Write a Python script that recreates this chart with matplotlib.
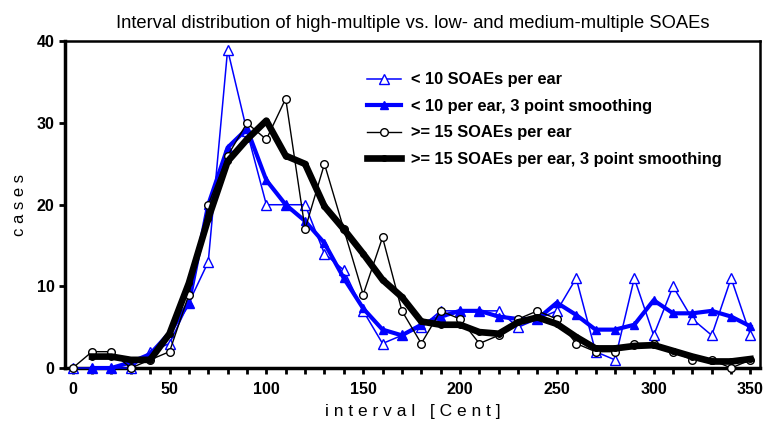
import matplotlib
matplotlib.use("Agg")
import matplotlib.pyplot as plt
from matplotlib.ticker import MultipleLocator

plt.rcParams["font.family"] = ["Liberation Sans", "DejaVu Sans"]

# interval in cents, one bin every 10 cents
intervals = list(range(0, 360, 10))
intervals_smooth = list(range(10, 360, 10))

# < 10 SOAEs per ear, raw counts
low_raw = [0, 0, 0, 0, 2, 3, 8, 13, 39, 29, 20, 20, 20, 14, 12, 7, 3, 4,
           5, 7, 7, 7, 7, 5, 6, 7, 11, 2, 1, 11, 4, 10, 6, 4, 11, 4]
# < 10 per ear, 3 point smoothing (starts at 10 cents)
low_smooth = [0, 0, 0.7, 1.7, 4.3, 8, 20, 27, 29.3, 23, 20, 18, 15.3, 11,
              7.3, 4.7, 4, 5.3, 6.3, 7, 7, 6.3, 6, 6, 8, 6.5, 4.7, 4.7,
              5.3, 8.3, 6.7, 6.7, 7, 6.3, 5.1]
# >= 15 SOAEs per ear, raw counts
high_raw = [0, 2, 2, 0, 1, 2, 9, 20, 26, 30, 28, 33, 17, 25, 17, 9, 16, 7,
            3, 7, 6, 3, 4, 6, 7, 6, 3, 2, 2, 3, 3, 2, 1, 1, 0, 1]
# >= 15 SOAEs per ear, 3 point smoothing (starts at 10 cents)
high_smooth = [1.4, 1.4, 1, 1, 4.2, 10.4, 18.3, 25.3, 28, 30.3, 26, 25,
               19.8, 17, 14, 10.8, 8.7, 5.7, 5.3, 5.3, 4.4, 4.2, 5.6, 6.2,
               5.4, 3.8, 2.4, 2.4, 2.7, 2.8, 2.1, 1.4, 0.8, 0.8, 1.1]

legend_labels = [
    "< 10 SOAEs per ear",
    "< 10 per ear, 3 point smoothing",
    ">= 15 SOAEs per ear",
    ">= 15 SOAEs per ear, 3 point smoothing",
]

BLUE = "#0000ff"

fig = plt.figure(figsize=(7.64, 4.23), dpi=100)
ax = fig.add_axes([0.085, 0.13, 0.91, 0.772])

ax.plot(intervals, low_raw, color=BLUE, lw=1.1, marker="^", ms=7,
        mfc="white", mec=BLUE, mew=1.0, clip_on=False, zorder=3,
        label=legend_labels[0])
ax.plot(intervals_smooth, low_smooth, color=BLUE, lw=3.0, marker="^", ms=6,
        mfc=BLUE, mec=BLUE, clip_on=False, zorder=4, label=legend_labels[1])
ax.plot(intervals, high_raw, color="black", lw=1.0, marker="o", ms=5.5,
        mfc="white", mec="black", mew=1.0, clip_on=False, zorder=5,
        label=legend_labels[2])
ax.plot(intervals_smooth, high_smooth, color="black", lw=4.8, marker="o",
        ms=4, mfc="black", mec="black", clip_on=False, zorder=6,
        label=legend_labels[3])

ax.set_xlim(-4, 355)
ax.set_ylim(0, 40)
ax.xaxis.set_major_locator(MultipleLocator(50))
ax.xaxis.set_minor_locator(MultipleLocator(10))
ax.yaxis.set_major_locator(MultipleLocator(10))

for side in ["left", "bottom"]:
    ax.spines[side].set_linewidth(2.5)
for side in ["top", "right"]:
    ax.spines[side].set_linewidth(1.8)

ax.tick_params(axis="both", which="both", direction="out", width=2,
               labelsize=11.5)
ax.tick_params(axis="both", which="major", length=4)
ax.tick_params(axis="x", which="minor", length=4)
ax.tick_params(axis="x", pad=6)
for lab in ax.get_xticklabels() + ax.get_yticklabels():
    lab.set_fontweight("bold")

ax.set_xlabel("i n t e r v a l   [ C e n t ]", fontsize=12.5, labelpad=5)
ax.set_ylabel("c a s e s", fontsize=12, labelpad=7)
ax.set_title("Interval distribution of high-multiple vs. low- and medium-multiple SOAEs",
             fontsize=13.2, pad=10)

ax.legend(loc="upper left", bbox_to_anchor=(0.434, 0.905), frameon=False,
          borderpad=0, borderaxespad=0, handlelength=2.1, handletextpad=0.6,
          labelspacing=0.7, prop={"weight": "bold", "size": 11.8})

fig.savefig("out.png", dpi=100)
